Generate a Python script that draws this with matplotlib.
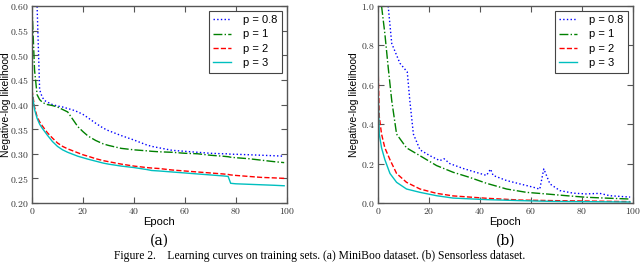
import matplotlib
matplotlib.use("Agg")
import matplotlib.pyplot as plt
from matplotlib.ticker import FuncFormatter

plt.rcParams['mathtext.fontset'] = 'cm'
plt.rcParams['xtick.direction'] = 'in'
plt.rcParams['ytick.direction'] = 'in'
plt.rcParams['xtick.top'] = True
plt.rcParams['ytick.right'] = True

labels = ['p = 0.8', 'p = 1', 'p = 2', 'p = 3']
colors = ['b', 'g', 'r', 'c']
styles = [':', '-.', '--', '-']

# (a) MiniBoo
ep_a = [0, 1, 2, 3, 4, 5, 6, 8, 10, 12, 14, 16, 18, 20, 22, 25, 28, 30, 35, 40,
        45, 47, 50, 55, 60, 65, 70, 75, 77, 78, 80, 85, 90, 95, 99]
mb_p08 = [0.75, 0.68, 0.60, 0.43, 0.415, 0.408, 0.405, 0.400, 0.397, 0.395, 0.392,
          0.389, 0.385, 0.380, 0.373, 0.362, 0.352, 0.347, 0.337, 0.328, 0.318, 0.315,
          0.312, 0.307, 0.305, 0.303, 0.301, 0.300, 0.300, 0.299, 0.299, 0.298, 0.297,
          0.296, 0.295]
mb_p1 = [0.60, 0.47, 0.42, 0.41, 0.405, 0.402, 0.400, 0.398, 0.395, 0.390, 0.385,
         0.370, 0.355, 0.345, 0.336, 0.327, 0.320, 0.317, 0.311, 0.308, 0.306, 0.305,
         0.304, 0.303, 0.301, 0.300, 0.297, 0.295, 0.294, 0.293, 0.292, 0.290, 0.287,
         0.284, 0.282]
mb_p2 = [0.43, 0.395, 0.375, 0.365, 0.357, 0.350, 0.343, 0.332, 0.322, 0.315, 0.310,
         0.306, 0.302, 0.298, 0.295, 0.290, 0.286, 0.284, 0.279, 0.275, 0.272, 0.271,
         0.270, 0.267, 0.265, 0.263, 0.261, 0.259, 0.258, 0.257, 0.256, 0.254, 0.252,
         0.251, 0.250]
mb_p3 = [0.425, 0.39, 0.372, 0.360, 0.352, 0.345, 0.338, 0.325, 0.315, 0.308, 0.303,
         0.299, 0.295, 0.292, 0.289, 0.285, 0.281, 0.279, 0.275, 0.272, 0.268, 0.266,
         0.265, 0.263, 0.261, 0.259, 0.257, 0.255, 0.254, 0.240, 0.239, 0.238, 0.237,
         0.236, 0.235]

# (b) Sensorless
ep_b08 = [4, 5.4, 8.6, 11.5, 12.5, 13.9, 16.5, 20.4, 24.3, 25.9, 28.2, 33.5, 37.4,
          42.6, 44.2, 45.2, 50.5, 55.7, 61, 63.5, 65.1, 67.5, 71.4, 76.6, 81.8, 87,
          91, 99]
sl_p08 = [1.0, 0.81, 0.71, 0.665, 0.52, 0.35, 0.27, 0.24, 0.215, 0.225, 0.20, 0.175,
          0.16, 0.14, 0.172, 0.14, 0.114, 0.097, 0.08, 0.07, 0.173, 0.097, 0.063, 0.05,
          0.046, 0.049, 0.037, 0.03]
ep_b1 = [1.4, 2.7, 4, 5.4, 7.3, 11.2, 16.5, 23, 29.5, 36, 42.6, 50.5, 58.3, 66, 74,
         81.8, 91, 99]
sl_p1 = [1.0, 0.86, 0.69, 0.52, 0.35, 0.28, 0.24, 0.19, 0.156, 0.13, 0.10, 0.071,
         0.054, 0.046, 0.037, 0.029, 0.024, 0.02]
ep_b2 = [0, 0.5, 1.4, 2.7, 4.7, 7.3, 11.2, 16.5, 23, 29.5, 42.6, 55.7, 68.8, 81.8, 99]
sl_p2 = [0.72, 0.44, 0.35, 0.28, 0.22, 0.15, 0.105, 0.071, 0.049, 0.036, 0.024,
         0.015, 0.012, 0.010, 0.007]
ep_b3 = [0, 0.5, 1.4, 2.7, 4.7, 7.3, 11.2, 16.5, 23, 29.5, 42.6, 55.7, 68.8, 99]
sl_p3 = [0.60, 0.35, 0.28, 0.22, 0.15, 0.105, 0.071, 0.054, 0.037, 0.025, 0.017,
         0.012, 0.008, 0.005]

sans = 'Liberation Sans'

fig = plt.figure(figsize=(6.4, 2.65), dpi=100)
ax1 = fig.add_axes([0.05, 0.234, 0.398, 0.743])
ax2 = fig.add_axes([0.5906, 0.234, 0.398, 0.743])

for y, c, s, lab in zip([mb_p08, mb_p1, mb_p2, mb_p3], colors, styles, labels):
    ax1.plot(ep_a, y, color=c, linestyle=s, lw=1.0, label=lab)
for x, y, c, s, lab in zip([ep_b08, ep_b1, ep_b2, ep_b3], [sl_p08, sl_p1, sl_p2, sl_p3],
                           colors, styles, labels):
    ax2.plot(x, y, color=c, linestyle=s, lw=1.0, label=lab)

ax1.set_ylim(0.20, 0.60)
ax1.set_yticks([0.20, 0.25, 0.30, 0.35, 0.40, 0.45, 0.50, 0.55, 0.60])
ax1.yaxis.set_major_formatter(FuncFormatter(lambda v, p: r'$%.2f$' % v))
ax2.set_ylim(0, 1.0)
ax2.set_yticks([0, 0.2, 0.4, 0.6, 0.8, 1.0])
ax2.yaxis.set_major_formatter(FuncFormatter(lambda v, p: r'$%.1f$' % v))

for ax, tag in [(ax1, '(a)'), (ax2, '(b)')]:
    ax.set_xlim(0, 100)
    ax.set_xticks([0, 20, 40, 60, 80, 100])
    ax.xaxis.set_major_formatter(FuncFormatter(lambda v, p: r'$%d$' % v))
    ax.tick_params(labelsize=7, length=4, width=0.8, color='#555555', pad=2,
                   labelcolor='#333333')
    for sp in ax.spines.values():
        sp.set_color('#555555')
        sp.set_linewidth(1.0)
    ax.set_xlabel('Epoch', fontsize=8, family=sans, labelpad=1)
    ax.set_ylabel('Negative-log likelihood', fontsize=7.5, family=sans)
    leg = ax.legend(loc='upper right', prop={'family': sans, 'size': 8},
                    fancybox=False, framealpha=1, edgecolor='#444444',
                    handlelength=1.6, handletextpad=1.1, labelspacing=0.4,
                    borderpad=0.4, borderaxespad=0.4)
    leg.get_frame().set_linewidth(0.8)
    ax.text(0.5, -0.19, tag, transform=ax.transAxes, ha='center', va='center',
            fontsize=10, family='DejaVu Serif')

ax1.yaxis.set_label_coords(-0.084, 0.5)
ax2.yaxis.set_label_coords(-0.075, 0.5)

fig.text(0.5, 0.01, 'Figure 2.    Learning curves on training sets. (a) MiniBoo dataset. '
         '(b) Sensorless dataset.', ha='center', va='bottom', fontsize=8.4,
         family='Liberation Serif')

fig.savefig('out.png', dpi=100)
